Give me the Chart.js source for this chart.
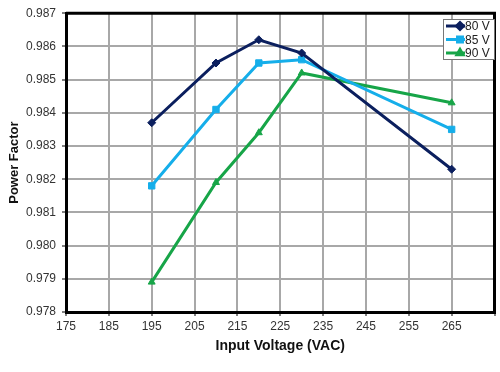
<!DOCTYPE html>
<html lang="en">
<head>
    <meta charset="UTF-8">
    <title>Power Factor vs Input Voltage</title>
    <script src="https://cdn.jsdelivr.net/npm/chart.js@4"></script>
    <style>
        html, body { margin: 0; padding: 0; background: #fff; }
        #wrap { width: 500px; height: 372px; }
    </style>
</head>
<body>
    <div id="wrap"><canvas id="pf"></canvas></div>
</body>

<script>

// input voltage (VAC) at each measurement
const voltages = [195, 210, 220, 230, 265];

// power factor per output voltage setting
const pf80 = [0.9837, 0.9855, 0.9862, 0.9858, 0.9823];
const pf85 = [0.9818, 0.9841, 0.9855, 0.9856, 0.9835];
const pf90 = [0.9789, 0.9819, 0.9834, 0.9852, 0.9843];

const seriesNames = ['80 V', '85 V', '90 V'];

const toPoints = (vals) => voltages.map((v, i) => ({ x: v, y: vals[i] }));

// legend box drawn inside the plot, top right
const boxLegend = {
    id: 'boxLegend',
    afterDraw(chart) {
        const ctx = chart.ctx;
        const area = chart.chartArea;
        // top and right frame of the plot
        ctx.save();
        ctx.strokeStyle = '#000';
        ctx.lineWidth = 3;
        ctx.beginPath();
        ctx.moveTo(area.left, area.top);
        ctx.lineTo(area.right, area.top);
        ctx.lineTo(area.right, area.bottom);
        ctx.stroke();

        const x0 = 443, y0 = 19, w = 51, h = 40;
        ctx.fillStyle = '#fff';
        ctx.fillRect(x0, y0, w, h);
        ctx.strokeStyle = '#777';
        ctx.lineWidth = 1;
        ctx.strokeRect(x0 + 0.5, y0 + 0.5, w, h);
        ctx.font = '12px "Liberation Sans", Arial, sans-serif';
        ctx.textBaseline = 'middle';
        chart.data.datasets.forEach((ds, i) => {
            const y = y0 + 7 + i * 13.5;
            ctx.strokeStyle = ds.borderColor;
            ctx.lineWidth = 3;
            ctx.beginPath();
            ctx.moveTo(x0 + 3, y);
            ctx.lineTo(x0 + 22, y);
            ctx.stroke();
            ctx.fillStyle = ds.borderColor;
            Chart.helpers.drawPoint(ctx, {
                pointStyle: ds.pointStyle, radius: 3.5, rotation: 0, borderWidth: 1
            }, x0 + 17, y);
            ctx.fill();
            ctx.fillStyle = '#222';
            ctx.fillText(ds.label, x0 + 22, y + 1);
        });
        ctx.restore();
    }
};

const tickFont = { family: '"Liberation Sans", Arial', size: 12 };

const ctx = document.getElementById('pf');
new Chart(ctx, {
    type: 'line',
    data: {
        datasets: [{
            label: seriesNames[0],
            data: toPoints(pf80),
            borderColor: '#0b1f5e',
            backgroundColor: '#0b1f5e',
            pointStyle: 'rectRot',
            pointRadius: 4
        }, {
            label: seriesNames[1],
            data: toPoints(pf85),
            borderColor: '#15aeea',
            backgroundColor: '#15aeea',
            pointStyle: 'rect',
            pointRadius: 4.5
        }, {
            label: seriesNames[2],
            data: toPoints(pf90),
            borderColor: '#17a548',
            backgroundColor: '#17a548',
            pointStyle: 'triangle',
            pointRadius: 4
        }]
    },
    options: {
        responsive: true,
        maintainAspectRatio: false,
        animation: false,
        elements: { line: { borderWidth: 3, tension: 0 } },
        layout: { padding: { top: 13, right: -1, left: 3, bottom: 13 } },
        plugins: {
            legend: { display: false },
            tooltip: { enabled: false }
        },
        scales: {
            x: {
                type: 'linear',
                min: 175,
                max: 275,
                afterFit: (s) => { s.height = 47; s.paddingRight = 0; s.paddingLeft = 0; },
                ticks: {
                    stepSize: 10,
                    color: '#333',
                    font: tickFont,
                    callback: (v) => v === 275 ? '' : v,
                    padding: 3
                },
                grid: { color: '#a8a8a8', lineWidth: 2, tickColor: '#000', tickLength: 4, tickWidth: 1 },
                border: { color: '#000', width: 3 },
                title: {
                    display: true,
                    text: 'Input Voltage (VAC)',
                    color: '#111',
                    font: { family: '"Liberation Sans", Arial', size: 14, weight: 'bold' },
                    padding: { top: 2, bottom: 4 }
                }
            },
            y: {
                min: 0.978,
                max: 0.987,
                afterFit: (s) => { s.width = 63; },
                ticks: {
                    stepSize: 0.001,
                    color: '#333',
                    font: tickFont,
                    callback: (v) => v.toFixed(3),
                    padding: 6
                },
                grid: { color: '#a8a8a8', lineWidth: 2, tickColor: '#000', tickLength: 4, tickWidth: 1 },
                border: { color: '#000', width: 3 },
                title: {
                    display: true,
                    text: 'Power Factor',
                    color: '#111',
                    font: { family: '"Liberation Sans", Arial', size: 13, weight: 'bold' },
                    padding: { top: 4, bottom: 0 }
                }
            }
        }
    },
    plugins: [boxLegend]
});

</script>
</html>
